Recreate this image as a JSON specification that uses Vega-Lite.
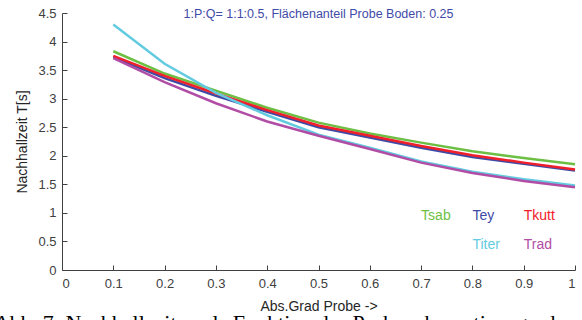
{
  "$schema": "https://vega.github.io/schema/vega-lite/v6.json",
  "width": 513,
  "height": 257,
  "autosize": {"type": "none"},
  "padding": {"left": 62, "top": 13, "right": 7, "bottom": 50},
  "background": "white",
  "config": {
    "view": {"stroke": null},
    "font": "Liberation Sans",
    "axis": {
      "grid": false,
      "domainColor": "#404040",
      "tickColor": "#404040",
      "tickSize": -5,
      "labelColor": "#404040",
      "labelFont": "Liberation Sans",
      "labelFontSize": 13,
      "titleFont": "Liberation Sans",
      "titleFontSize": 14,
      "titleFontWeight": "normal",
      "titleColor": "#262626"
    }
  },
  "title": {
    "text": "Abb. 7: Nachhallzeiten als Funktion des Probenabsorptionsgrades",
    "orient": "bottom",
    "anchor": "start",
    "frame": "bounds",
    "font": "Liberation Serif",
    "fontSize": 22,
    "fontWeight": "normal",
    "color": "black",
    "offset": 0,
    "dx": -22
  },
  "datasets": {
    "curves": [
      {"series": "Tsab", "x": 0.1, "T": 3.83}, {"series": "Tsab", "x": 0.2, "T": 3.44}, {"series": "Tsab", "x": 0.3, "T": 3.14}, {"series": "Tsab", "x": 0.4, "T": 2.84}, {"series": "Tsab", "x": 0.5, "T": 2.58}, {"series": "Tsab", "x": 0.6, "T": 2.39}, {"series": "Tsab", "x": 0.7, "T": 2.23}, {"series": "Tsab", "x": 0.8, "T": 2.08}, {"series": "Tsab", "x": 0.9, "T": 1.96}, {"series": "Tsab", "x": 1.0, "T": 1.85},
      {"series": "Tey", "x": 0.1, "T": 3.73}, {"series": "Tey", "x": 0.2, "T": 3.36}, {"series": "Tey", "x": 0.3, "T": 3.05}, {"series": "Tey", "x": 0.4, "T": 2.77}, {"series": "Tey", "x": 0.5, "T": 2.50}, {"series": "Tey", "x": 0.6, "T": 2.32}, {"series": "Tey", "x": 0.7, "T": 2.14}, {"series": "Tey", "x": 0.8, "T": 1.98}, {"series": "Tey", "x": 0.9, "T": 1.86}, {"series": "Tey", "x": 1.0, "T": 1.74},
      {"series": "Tkutt", "x": 0.1, "T": 3.75}, {"series": "Tkutt", "x": 0.2, "T": 3.40}, {"series": "Tkutt", "x": 0.3, "T": 3.09}, {"series": "Tkutt", "x": 0.4, "T": 2.80}, {"series": "Tkutt", "x": 0.5, "T": 2.53}, {"series": "Tkutt", "x": 0.6, "T": 2.35}, {"series": "Tkutt", "x": 0.7, "T": 2.17}, {"series": "Tkutt", "x": 0.8, "T": 2.01}, {"series": "Tkutt", "x": 0.9, "T": 1.88}, {"series": "Tkutt", "x": 1.0, "T": 1.76},
      {"series": "Titer", "x": 0.1, "T": 4.30}, {"series": "Titer", "x": 0.2, "T": 3.61}, {"series": "Titer", "x": 0.3, "T": 3.10}, {"series": "Titer", "x": 0.4, "T": 2.71}, {"series": "Titer", "x": 0.5, "T": 2.37}, {"series": "Titer", "x": 0.6, "T": 2.14}, {"series": "Titer", "x": 0.7, "T": 1.90}, {"series": "Titer", "x": 0.8, "T": 1.72}, {"series": "Titer", "x": 0.9, "T": 1.59}, {"series": "Titer", "x": 1.0, "T": 1.48},
      {"series": "Trad", "x": 0.1, "T": 3.71}, {"series": "Trad", "x": 0.2, "T": 3.29}, {"series": "Trad", "x": 0.3, "T": 2.92}, {"series": "Trad", "x": 0.4, "T": 2.60}, {"series": "Trad", "x": 0.5, "T": 2.35}, {"series": "Trad", "x": 0.6, "T": 2.12}, {"series": "Trad", "x": 0.7, "T": 1.88}, {"series": "Trad", "x": 0.8, "T": 1.70}, {"series": "Trad", "x": 0.9, "T": 1.56}, {"series": "Trad", "x": 1.0, "T": 1.45}
    ],
    "labels": [
      {"series": "Tsab", "x": 0.7, "T": 0.95},
      {"series": "Tey", "x": 0.8, "T": 0.95},
      {"series": "Tkutt", "x": 0.9, "T": 0.95},
      {"series": "Titer", "x": 0.8, "T": 0.44},
      {"series": "Trad", "x": 0.9, "T": 0.44}
    ],
    "header": [
      {"text": "1:P:Q= 1:1:0.5, Flächenanteil Probe Boden: 0.25", "x": 0.5, "T": 4.5}
    ]
  },
  "layer": [
    {
      "data": {"name": "curves"},
      "mark": {"type": "line", "strokeWidth": 2.5, "clip": false},
      "encoding": {
        "x": {
          "field": "x", "type": "quantitative",
          "scale": {"domain": [0, 1], "nice": false, "zero": false},
          "axis": {"values": [0, 0.1, 0.2, 0.3, 0.4, 0.5, 0.6, 0.7, 0.8, 0.9, 1], "tickCount": 30, "format": "~g", "labelPadding": 12, "title": "Abs.Grad Probe ->", "titlePadding": 9}
        },
        "y": {
          "field": "T", "type": "quantitative",
          "scale": {"domain": [0, 4.5], "nice": false},
          "axis": {"values": [0, 0.5, 1, 1.5, 2, 2.5, 3, 3.5, 4, 4.5], "tickCount": 30, "format": "~g", "labelPadding": 11, "labelOverlap": false, "title": "Nachhallzeit T[s]", "titlePadding": 8}
        },
        "color": {
          "field": "series", "type": "nominal",
          "scale": {"domain": ["Tsab", "Tey", "Tkutt", "Titer", "Trad"], "range": ["#6DBF44", "#3E4AA6", "#F0202A", "#62CBE0", "#B24DA6"]},
          "legend": null
        },
        "order": {"field": "x"}
      }
    },
    {
      "data": {"name": "labels"},
      "mark": {"type": "text", "align": "left", "baseline": "middle", "fontSize": 14, "font": "Liberation Sans"},
      "encoding": {
        "x": {"field": "x", "type": "quantitative"},
        "y": {"field": "T", "type": "quantitative"},
        "text": {"field": "series"},
        "color": {"field": "series", "type": "nominal", "legend": null}
      }
    },
    {
      "data": {"name": "header"},
      "mark": {"type": "text", "align": "center", "baseline": "middle", "fontSize": 12.5, "font": "Liberation Sans", "color": "#3F4BA8", "dy": 1},
      "encoding": {
        "x": {"field": "x", "type": "quantitative"},
        "y": {"field": "T", "type": "quantitative"},
        "text": {"field": "text"}
      }
    }
  ]
}
